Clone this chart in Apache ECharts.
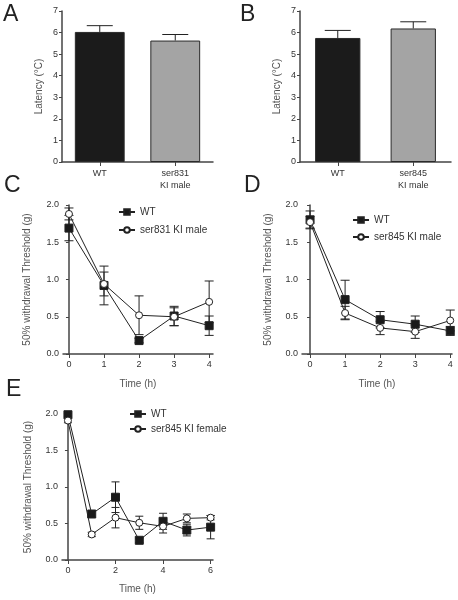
<!DOCTYPE html>
<html><head><meta charset="utf-8">
<script src="https://cdn.jsdelivr.net/npm/echarts@6/dist/echarts.min.js"></script>
<style>html,body{margin:0;padding:0;background:#fff}#c{width:458px;height:600px}</style>
</head><body><div id="c"></div>
<script>
// Panel A
const catsA = ['WT', 'ser831\nKI male'];
const meanA = [6.03, 5.63];
const semA = [0.29, 0.28];
// Panel B
const catsB = ['WT', 'ser845\nKI male'];
const meanB = [5.75, 6.19];
const semB = [0.35, 0.31];
// Panel C
const timeC = [0, 1, 2, 3, 4];
const wtC = [1.69, 0.92, 0.18, 0.51, 0.38];
const semWtC = [0.17, 0.26, 0.03, 0.13, 0.13];
const kiC = [1.88, 0.94, 0.52, 0.50, 0.70];
const semKiC = [0.08, 0.16, 0.26, 0.12, 0.28];
const nameKiC = 'ser831 KI male';
// Panel D
const timeD = [0, 1, 2, 3, 4];
const wtD = [1.80, 0.73, 0.46, 0.40, 0.31];
const semWtD = [0.12, 0.26, 0.11, 0.11, 0.06];
const kiD = [1.77, 0.55, 0.35, 0.30, 0.45];
const semKiD = [0.08, 0.09, 0.09, 0.09, 0.14];
const nameKiD = 'ser845 KI male';
// Panel E
const timeE = [0, 1, 2, 3, 4, 5, 6];
const wtE = [1.99, 0.63, 0.86, 0.27, 0.53, 0.41, 0.45];
const semWtE = [0.02, 0.04, 0.21, 0.03, 0.11, 0.08, 0.16];
const kiE = [1.91, 0.35, 0.58, 0.51, 0.46, 0.57, 0.58];
const semKiE = [0.03, 0.03, 0.14, 0.09, 0.09, 0.06, 0.03];
const nameKiE = 'ser845 KI female';
// Tick labels
const ticksTimeCD = [0, 1, 2, 3, 4];
const ticksTimeE = [0, 2, 4, 6];

const TXT = '#333';
const AX = '#444';
const FONT = 'Liberation Sans, Arial, sans-serif';

function errRender(capW, upOnly) {
  return function (params, api) {
    const x = api.value(0), lo = api.value(1), hi = api.value(2);
    const pHi = api.coord([x, hi]);
    const pM = api.coord([x, api.value(3)]);
    const pLo = api.coord([x, lo]);
    const st = { stroke: '#222', lineWidth: 1 };
    const ch = [];
    const from = upOnly ? pM : pLo;
    ch.push({ type: 'line', shape: { x1: pHi[0], y1: pHi[1], x2: from[0], y2: from[1] }, style: st });
    ch.push({ type: 'line', shape: { x1: pHi[0] - capW / 2, y1: pHi[1], x2: pHi[0] + capW / 2, y2: pHi[1] }, style: st });
    if (!upOnly) ch.push({ type: 'line', shape: { x1: pLo[0] - capW / 2, y1: pLo[1], x2: pLo[0] + capW / 2, y2: pLo[1] }, style: st });
    return { type: 'group', children: ch };
  };
}
function errData(xs, m, s) { return xs.map((x, i) => [x, m[i] - s[i], m[i] + s[i], m[i]]); }

function yAxisCommon(idx, name, gap, min, max, interval, fmt) {
  return {
    type: 'value', gridIndex: idx, min: min, max: max, interval: interval,
    name: name, nameLocation: 'middle', nameGap: gap, nameRotate: 90,
    nameTextStyle: { color: '#555', fontSize: 10, fontFamily: FONT },
    axisLine: { show: true, lineStyle: { color: AX, width: 1.5 } },
    axisTick: { show: true, length: 3, lineStyle: { color: AX } },
    axisLabel: { color: TXT, fontSize: 9, fontFamily: FONT, margin: 4, formatter: fmt },
    splitLine: { show: false }
  };
}
function xCat(idx, cats) {
  return {
    type: 'category', gridIndex: idx, data: cats,
    axisLine: { show: true, lineStyle: { color: AX, width: 1.5 } },
    axisTick: { show: true, alignWithLabel: true, length: 4, lineStyle: { color: AX } },
    axisLabel: { color: TXT, fontSize: 9, fontFamily: FONT, margin: 6, lineHeight: 12 }
  };
}
function xTime(idx, min, max, ticks, gap) {
  return {
    type: 'value', gridIndex: idx, min: min, max: max,
    name: 'Time (h)', nameLocation: 'middle', nameGap: gap,
    nameTextStyle: { color: '#555', fontSize: 10, fontFamily: FONT },
    axisLine: { show: true, onZero: false, lineStyle: { color: AX, width: 1.5 } },
    axisTick: { show: true, length: 4, customValues: ticks, lineStyle: { color: AX } },
    axisLabel: { color: TXT, fontSize: 9, fontFamily: FONT, margin: 6, customValues: ticks },
    splitLine: { show: false }
  };
}
function lineSeries(name, xi, xs, ys, filled) {
  return {
    type: 'line', name: name, xAxisIndex: xi, yAxisIndex: xi, z: 5,
    data: xs.map((x, i) => [x, ys[i]]),
    symbol: filled ? 'rect' : 'circle', symbolSize: filled ? 8 : 7,
    showAllSymbol: true,
    lineStyle: { color: '#222', width: 1 },
    itemStyle: { color: filled ? '#1a1a1a' : '#fff', borderColor: '#222', borderWidth: 1 },
    emphasis: { disabled: true }, animation: false
  };
}
function errSeries(xi, xs, m, s, capW) {
  return {
    type: 'custom', xAxisIndex: xi, yAxisIndex: xi, z: 2,
    data: errData(xs, m, s), renderItem: errRender(capW, false),
    encode: { x: 0, y: [1, 2] }, animation: false, silent: true
  };
}
function legendAt(left, top, names, gap) {
  return {
    left: left, top: top, padding: 0, orient: 'vertical', data: names, itemWidth: 16, itemHeight: 7, itemGap: gap,
    textStyle: { color: TXT, fontSize: 10, fontFamily: FONT }, selectedMode: false
  };
}
const fmt1 = v => v.toFixed(1);

const option = {
  animation: false,
  backgroundColor: '#fff',
  grid: [
    { left: 62, top: 11, width: 151, height: 151 },
    { left: 300, top: 11, width: 151, height: 151 },
    { left: 63, top: 205, width: 150, height: 149 },
    { left: 302, top: 205, width: 150, height: 149 },
    { left: 62, top: 414, width: 151, height: 146 }
  ],
  xAxis: [
    xCat(0, catsA), xCat(1, catsB),
    xTime(2, -0.17, 4.11, ticksTimeCD, 25), xTime(3, -0.23, 4.05, ticksTimeCD, 25), xTime(4, -0.25, 6.1, ticksTimeE, 24)
  ],
  yAxis: [
    yAxisCommon(0, 'Latency (°C)', 18, 0, 7, 1, v => String(v)),
    yAxisCommon(1, 'Latency (°C)', 18, 0, 7, 1, v => String(v)),
    yAxisCommon(2, '50% withdrawal Threshold (g)', 31, 0, 2, 0.5, fmt1),
    yAxisCommon(3, '50% withdrawal Threshold (g)', 29, 0, 2, 0.5, fmt1),
    yAxisCommon(4, '50% withdrawal Threshold (g)', 29, 0, 2, 0.5, fmt1)
  ],
  legend: [
    legendAt(118, 207, ['WT', nameKiC], 8),
    legendAt(352, 215, ['WT', nameKiD], 7),
    legendAt(129, 409, ['WT', nameKiE], 5)
  ],
  series: [
    { type: 'bar', xAxisIndex: 0, yAxisIndex: 0, barWidth: '66%', z: 3,
      data: meanA.map((v, i) => ({ value: v, itemStyle: { color: i === 0 ? '#1b1b1b' : '#a4a4a4', borderColor: '#2a2a2a', borderWidth: 1 } })) },
    { type: 'custom', xAxisIndex: 0, yAxisIndex: 0, z: 2, data: errData([0, 1], meanA, semA),
      renderItem: errRender(26, true), encode: { x: 0, y: [1, 2] }, silent: true },
    { type: 'bar', xAxisIndex: 1, yAxisIndex: 1, barWidth: '60%', z: 3,
      data: meanB.map((v, i) => ({ value: v, itemStyle: { color: i === 0 ? '#1b1b1b' : '#a4a4a4', borderColor: '#2a2a2a', borderWidth: 1 } })) },
    { type: 'custom', xAxisIndex: 1, yAxisIndex: 1, z: 2, data: errData([0, 1], meanB, semB),
      renderItem: errRender(26, true), encode: { x: 0, y: [1, 2] }, silent: true },

    errSeries(2, timeC, wtC, semWtC, 9), errSeries(2, timeC, kiC, semKiC, 9),
    lineSeries('WT', 2, timeC, wtC, true), lineSeries(nameKiC, 2, timeC, kiC, false),

    errSeries(3, timeD, wtD, semWtD, 9), errSeries(3, timeD, kiD, semKiD, 9),
    lineSeries('WT', 3, timeD, wtD, true), lineSeries(nameKiD, 3, timeD, kiD, false),

    errSeries(4, timeE, wtE, semWtE, 8), errSeries(4, timeE, kiE, semKiE, 8),
    lineSeries('WT', 4, timeE, wtE, true), lineSeries(nameKiE, 4, timeE, kiE, false)
  ],
  graphic: [
    { type: 'text', left: 3, top: 3, style: { text: 'A', fontSize: 23, fill: '#222', fontFamily: FONT } },
    { type: 'text', left: 240, top: 3, style: { text: 'B', fontSize: 23, fill: '#222', fontFamily: FONT } },
    { type: 'text', left: 4, top: 174, style: { text: 'C', fontSize: 23, fill: '#222', fontFamily: FONT } },
    { type: 'text', left: 244, top: 174, style: { text: 'D', fontSize: 23, fill: '#222', fontFamily: FONT } },
    { type: 'text', left: 6, top: 378, style: { text: 'E', fontSize: 23, fill: '#222', fontFamily: FONT } }
  ]
};
const chart = echarts.init(document.getElementById('c'), null, { renderer: 'canvas' });
chart.setOption(option);
</script></body></html>
